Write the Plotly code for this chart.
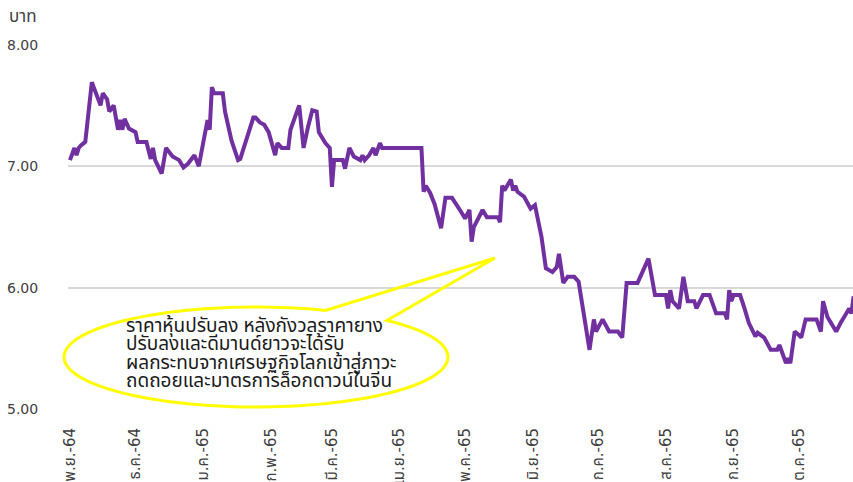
import math
import plotly.graph_objects as go

# ---- data ----
dates = [
    "2021-11-01", "2021-11-03", "2021-11-04", "2021-11-05", "2021-11-06", "2021-11-08",
    "2021-11-11", "2021-11-13", "2021-11-15", "2021-11-16", "2021-11-18", "2021-11-19",
    "2021-11-21", "2021-11-23", "2021-11-24", "2021-11-25", "2021-11-26", "2021-11-28",
    "2021-12-01", "2021-12-02", "2021-12-06", "2021-12-08", "2021-12-09", "2021-12-10",
    "2021-12-13", "2021-12-15", "2021-12-16", "2021-12-18", "2021-12-21", "2021-12-23",
    "2021-12-25", "2021-12-28", "2021-12-30",
    "2022-01-03", "2022-01-04", "2022-01-05", "2022-01-06", "2022-01-10", "2022-01-11",
    "2022-01-14", "2022-01-17", "2022-01-18", "2022-01-24", "2022-01-25", "2022-01-27",
    "2022-01-29", "2022-01-31",
    "2022-02-03", "2022-02-04", "2022-02-06", "2022-02-09", "2022-02-10", "2022-02-14",
    "2022-02-16", "2022-02-18", "2022-02-20", "2022-02-22", "2022-02-23", "2022-02-26",
    "2022-02-28",
    "2022-03-01", "2022-03-02", "2022-03-06", "2022-03-07", "2022-03-09", "2022-03-11",
    "2022-03-14", "2022-03-15", "2022-03-16", "2022-03-18", "2022-03-20", "2022-03-21",
    "2022-03-23", "2022-03-24",
    "2022-04-11", "2022-04-12", "2022-04-13", "2022-04-15", "2022-04-17", "2022-04-20",
    "2022-04-22", "2022-04-25", "2022-04-29",
    "2022-05-01", "2022-05-03", "2022-05-04", "2022-05-05", "2022-05-09", "2022-05-11",
    "2022-05-16", "2022-05-17", "2022-05-18", "2022-05-19", "2022-05-21", "2022-05-22",
    "2022-05-23", "2022-05-24", "2022-05-25", "2022-05-28", "2022-05-31",
    "2022-06-02", "2022-06-05", "2022-06-07", "2022-06-10", "2022-06-12", "2022-06-13",
    "2022-06-15", "2022-06-17", "2022-06-20", "2022-06-22", "2022-06-27", "2022-06-29",
    "2022-06-30",
    "2022-07-03", "2022-07-06", "2022-07-10", "2022-07-12", "2022-07-14", "2022-07-19",
    "2022-07-24", "2022-07-27",
    "2022-08-01", "2022-08-02", "2022-08-03", "2022-08-04", "2022-08-07", "2022-08-09",
    "2022-08-11", "2022-08-14", "2022-08-15", "2022-08-18", "2022-08-21", "2022-08-24",
    "2022-08-28", "2022-08-29", "2022-08-30", "2022-08-31",
    "2022-09-01", "2022-09-04", "2022-09-06", "2022-09-08", "2022-09-11", "2022-09-12",
    "2022-09-15", "2022-09-18", "2022-09-21", "2022-09-22", "2022-09-25", "2022-09-26",
    "2022-09-27", "2022-09-29",
    "2022-10-01", "2022-10-02", "2022-10-04", "2022-10-09", "2022-10-11", "2022-10-12",
    "2022-10-14", "2022-10-18", "2022-10-20", "2022-10-23", "2022-10-24", "2022-10-25",
    "2022-10-26",
]

prices = [
    7.05, 7.15, 7.09, 7.15, 7.17, 7.20,
    7.69, 7.60, 7.50, 7.60, 7.55, 7.45,
    7.50, 7.30, 7.38, 7.30, 7.39, 7.31,
    7.28, 7.20, 7.20, 7.06, 7.15, 7.05,
    6.94, 7.15, 7.13, 7.08, 7.05, 6.99,
    7.02, 7.09, 7.00,
    7.38, 7.30, 7.65, 7.60, 7.60, 7.45,
    7.21, 7.05, 7.06, 7.40, 7.40, 7.36,
    7.34, 7.28,
    7.09, 7.19, 7.15, 7.15, 7.30, 7.50,
    7.15, 7.32, 7.46, 7.45, 7.28, 7.19,
    7.15,
    6.83, 7.05, 7.05, 6.98, 7.15, 7.08,
    7.05, 7.09, 7.05, 7.09, 7.15, 7.09,
    7.19, 7.15,
    7.15, 6.79, 6.84, 6.78, 6.69, 6.49,
    6.74, 6.74, 6.63,
    6.57, 6.64, 6.38, 6.50, 6.64, 6.58,
    6.58, 6.54, 6.84, 6.80, 6.87, 6.89,
    6.80, 6.84, 6.79, 6.75, 6.65,
    6.68, 6.42, 6.16, 6.13, 6.17, 6.28,
    6.04, 6.09, 6.09, 6.05, 5.49, 5.74,
    5.64,
    5.74, 5.64, 5.64, 5.59, 6.04, 6.04,
    6.24, 5.94,
    5.94, 5.83, 5.98, 5.89, 5.83, 6.09,
    5.89, 5.89, 5.83, 5.94, 5.94, 5.79,
    5.79, 5.74, 5.98, 5.89,
    5.94, 5.94, 5.83, 5.71, 5.60, 5.63,
    5.59, 5.49, 5.49, 5.53, 5.38, 5.42,
    5.38, 5.64,
    5.61, 5.59, 5.74, 5.74, 5.64, 5.89,
    5.76, 5.64, 5.71, 5.79, 5.83, 5.79,
    5.93,
]

tick_dates = [
    "2021-11-01", "2021-12-01", "2022-01-01", "2022-02-01", "2022-03-01", "2022-04-01",
    "2022-05-01", "2022-06-01", "2022-07-01", "2022-08-01", "2022-09-01", "2022-10-01",
]
tick_labels = [
    "พ.ย.-64", "ธ.ค.-64", "ม.ค.-65", "ก.พ.-65", "มี.ค.-65", "เม.ย.-65",
    "พ.ค.-65", "มิ.ย.-65", "ก.ค.-65", "ส.ค.-65", "ก.ย.-65", "ต.ค.-65",
]
y_ticks = [5, 6, 7, 8]
y_tick_labels = ["5.00", "6.00", "7.00", "8.00"]

callout_lines = [
    "ราคาหุ้นปรับลง หลังกังวลราคายาง",
    "ปรับลงและดีมานด์ยาวจะได้รับ",
    "ผลกระทบจากเศรษฐกิจโลกเข้าสู่ภาวะ",
    "ถดถอยและมาตรการล็อกดาวน์ในจีน",
]

# ---- layout geometry (pixels) ----
W, H = 853, 482
ML, MR, MT, MB = 68, 0, 44, 72
PW, PH = W - ML - MR, H - MT - MB

FONT = "DejaVu Sans, Noto Sans Thai, Noto Sans, sans-serif"
TFONT = "Noto Sans Thai, Noto Sans, sans-serif"
GRID = "#D9D9D9"
PURPLE = "#7030A0"
YELLOW = "#FFFF00"
TXT = "#404040"


def px2paper(x, y):
    return (x - ML) / PW, (H - MB - y) / PH


# callout bubble: ellipse with a pointer, built in pixel space then mapped to paper
cx, cy, rx, ry = 256, 357, 192, 50
a_start = math.radians(-47)
a_end = math.radians(360 - 68.8)
tip = (495, 258)
pts = []
n = 120
for i in range(n + 1):
    a = a_start + (a_end - a_start) * i / n
    pts.append((cx + rx * math.cos(a), cy + ry * math.sin(a)))
pts.append(tip)
path = ""
for i, (x, y) in enumerate(pts):
    u, v = px2paper(x, y)
    path += ("M" if i == 0 else "L") + f"{u:.5f},{v:.5f} "
path += "Z"

fig = go.Figure()
fig.add_trace(go.Scatter(
    x=dates, y=prices, mode="lines",
    line=dict(color=PURPLE, width=4, shape="linear"),
    hoverinfo="skip", showlegend=False, cliponaxis=True,
))

fig.update_layout(
    width=W, height=H,
    margin=dict(l=ML, r=MR, t=MT, b=MB, pad=0, autoexpand=False),
    paper_bgcolor="white", plot_bgcolor="white",
    font=dict(family=FONT, color=TXT),
    showlegend=False,
    xaxis=dict(
        type="date",
        range=["2021-10-31 02:00", "2022-10-25 17:00"],
        tickmode="array", tickvals=tick_dates, ticktext=tick_labels,
        tickangle=-90, tickfont=dict(size=15, color=TXT, family=FONT),
        showgrid=False, zeroline=False,
        showline=False, ticks="outside", ticklen=11, tickcolor="rgba(0,0,0,0)",
    ),
    yaxis=dict(
        range=[4.995, 8.005],
        tickmode="array", tickvals=y_ticks, ticktext=y_tick_labels,
        tickfont=dict(size=14, color=TXT, family=FONT),
        showgrid=True, gridcolor=GRID, gridwidth=1.5,
        zeroline=False, showline=False,
        ticks="outside", ticklen=26, tickcolor="rgba(0,0,0,0)",
    ),
    shapes=[dict(
        type="path", path=path, xref="paper", yref="paper",
        line=dict(color=YELLOW, width=3), fillcolor="rgba(0,0,0,0)",
        layer="above",
    )],
)

u, v = px2paper(7, 17)
fig.add_annotation(
    x=u, y=v, xref="paper", yref="paper", text="บาท",
    showarrow=False, xanchor="left", yanchor="middle",
    font=dict(size=17, color=TXT, family=TFONT),
)

line_centers = [326, 344.5, 363, 381.5]
for txt, yc in zip(callout_lines, line_centers):
    u, v = px2paper(124, yc)
    fig.add_annotation(
        x=u, y=v, xref="paper", yref="paper", text=txt,
        showarrow=False, xanchor="left", yanchor="middle", align="left",
        font=dict(size=19, color="#1a1a1a", family=TFONT),
    )

fig.write_html(
    "out.html",
    config={"displayModeBar": False, "staticPlot": True},
    post_script="document.body.style.margin='0';document.body.style.overflow='hidden';",
)
